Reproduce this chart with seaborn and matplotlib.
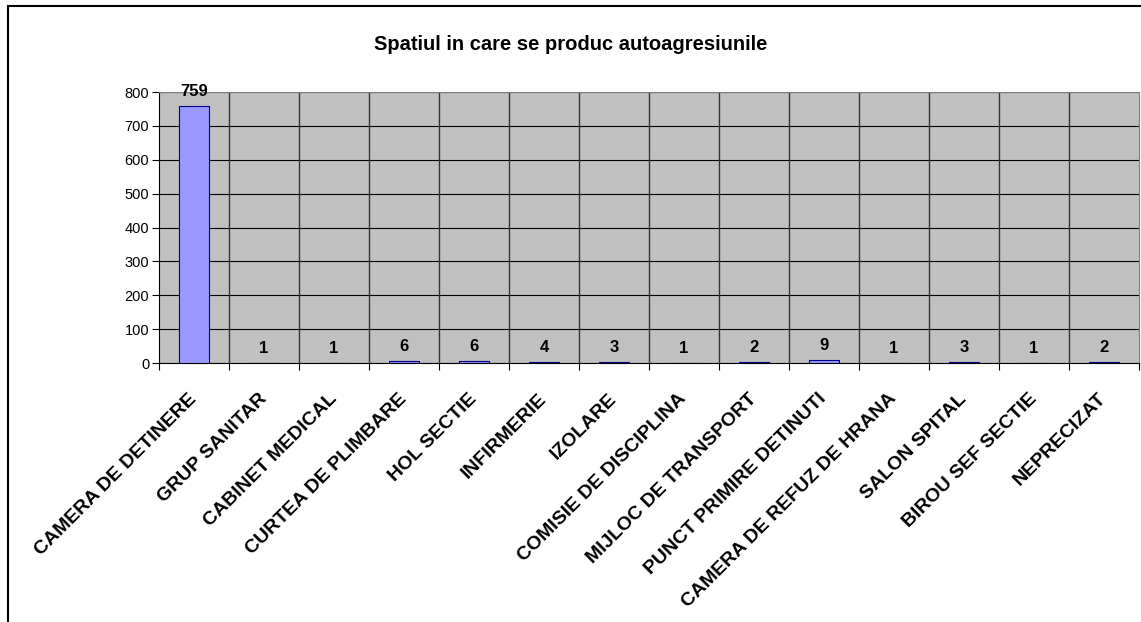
import numpy as np
import pandas as pd
import matplotlib
matplotlib.use("Agg")
import matplotlib.pyplot as plt
import seaborn as sns
from matplotlib.patches import Rectangle
from matplotlib.ticker import MultipleLocator, FixedLocator

# Date
locuri = [
    "CAMERA DE DETINERE", "GRUP SANITAR", "CABINET MEDICAL", "CURTEA DE PLIMBARE",
    "HOL SECTIE", "INFIRMERIE", "IZOLARE", "COMISIE DE DISCIPLINA",
    "MIJLOC DE TRANSPORT", "PUNCT PRIMIRE DETINUTI", "CAMERA DE REFUZ DE HRANA",
    "SALON SPITAL", "BIROU SEF SECTIE", "NEPRECIZAT",
]
valori = [759, 1, 1, 6, 6, 4, 3, 1, 2, 9, 1, 3, 1, 2]

df = pd.DataFrame({"loc": locuri, "n": valori})

sns.set_style("white")
plt.rcParams['font.family'] = ['Liberation Sans', 'DejaVu Sans']
plt.rcParams['text.color'] = 'black'
plt.rcParams['xtick.color'] = 'black'
plt.rcParams['ytick.color'] = 'black'

fig = plt.figure(figsize=(11.41, 6.22), dpi=100)
ax = fig.add_axes([159 / 1141, 1 - 363 / 622, 980 / 1141, 271 / 622])

# chenarul graficului (partial vizibil)
fig.patches.append(Rectangle((8 / 1141, -0.1), 1.2, 1 - 6 / 622 + 0.1,
                             transform=fig.transFigure, fill=False,
                             edgecolor='black', linewidth=1.5, zorder=0))

ax.set_facecolor('#C0C0C0')
sns.barplot(x='loc', y='n', data=df, color='#9999FF', saturation=1,
            width=0.42, edgecolor='#000080', linewidth=0.8, ax=ax, zorder=3)

ax.set_xlim(-0.5, len(locuri) - 0.5)
ax.set_ylim(0, 800)
ax.yaxis.set_major_locator(MultipleLocator(100))
ax.grid(axis='y', color='black', linewidth=0.8, zorder=1)
for i in range(len(locuri) - 1):
    ax.axvline(i + 0.5, color='#333333', linewidth=1.0, zorder=1)

# etichete valori
for i, v in enumerate(valori):
    ax.annotate(str(v), (i, v), xytext=(0, 5),
                textcoords='offset points', ha='center', va='bottom',
                fontsize=12, fontweight='bold', annotation_clip=False)

fig.text(0.5, 1 - 44 / 622, 'Spatiul in care se produc autoagresiunile',
         fontsize=14.5, fontweight='bold', ha='center', va='center')
ax.set_xlabel('')
ax.set_ylabel('')

# axe
for s in ['top', 'right']:
    ax.spines[s].set_color('#808080')
ax.spines['left'].set_color('black')
ax.spines['bottom'].set_color('black')
ax.tick_params(axis='y', direction='out', length=5, width=0.8, color='black',
               labelsize=10.5, left=True, pad=2)
ax.xaxis.set_minor_locator(FixedLocator(np.arange(-0.5, len(locuri), 1)))
ax.tick_params(axis='x', which='minor', direction='out', length=5, width=0.8,
               color='black', bottom=True)
ax.tick_params(axis='x', which='major', length=0, pad=24)
ax.set_xticks(range(len(locuri)))
ax.set_xticklabels(locuri, rotation=45, ha='right', va='center',
                   rotation_mode='anchor', fontsize=14, fontweight='bold')

plt.savefig('out.png', dpi=100)
